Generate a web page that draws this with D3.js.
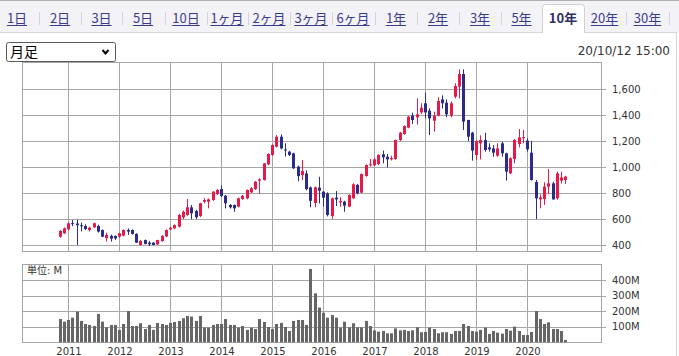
<!DOCTYPE html>
<html><head><meta charset="utf-8">
<script src="https://cdn.jsdelivr.net/npm/d3@7"></script>
<style>
html,body{margin:0;padding:0;background:#fff;overflow:hidden}
svg{display:block}
</style></head>
<body>
<svg id="c" width="679" height="356"></svg>
<script>
// ---------- data ----------
const months = [];
for (let i = 0; i < 120; i++) {
  const y = 2010 + Math.floor((10 + i) / 12), m = (10 + i) % 12 + 1;
  months.push(y + "-" + String(m).padStart(2, "0"));
}
const open  = [464,490,520,568,565,552,546,515,536,546,515,452,470,469,464,472,515,515,485,400,
               438,418,418,405,430,466,520,528,541,613,631,690,662,623,733,733,746,792,830,779,
               708,708,695,754,759,805,830,895,900,1020,1092,1156,1233,1135,1118,1105,1003,938,951,843,
               723,841,810,797,623,764,728,733,695,759,862,803,931,1015,1013,1023,1097,1079,1059,1062,
               1208,1254,1303,1395,1382,1420,1490,1433,1356,1395,1520,1495,1395,1541,1618,1715,1362,1264,1092,1182,
               1208,1151,1143,1087,1182,1105,951,1062,1177,1222,1203,1110,885,751,754,849,874,759,895,900];
const high  = [515,535,575,592,595,572,559,541,572,556,520,495,480,475,495,520,528,520,490,438,
               442,431,422,440,475,520,540,558,640,665,754,708,670,725,760,758,815,830,860,785,
               715,712,765,785,828,845,892,913,1030,1105,1175,1246,1251,1182,1125,1110,1010,1054,975,850,
               850,925,815,805,765,815,767,740,790,875,870,950,1020,1062,1067,1097,1126,1100,1086,1210,
               1270,1320,1392,1418,1528,1490,1572,1452,1426,1536,1551,1520,1505,1644,1751,1751,1362,1270,1205,1244,
               1264,1182,1169,1182,1195,1110,1075,1215,1292,1285,1221,1200,900,790,882,985,887,964,964,932];
const low   = [455,485,512,545,400,505,515,503,530,495,460,426,426,440,455,468,477,480,415,395,
               405,392,398,400,425,460,515,520,535,600,625,600,600,615,720,682,740,785,770,682,
               680,656,690,748,752,800,825,792,895,1015,1085,1150,1135,1080,1085,985,890,900,820,690,
               690,720,695,620,600,700,695,656,690,755,790,798,925,1003,1005,1015,1028,997,1050,1055,
               1200,1248,1298,1331,1326,1408,1374,1246,1272,1390,1449,1382,1382,1528,1528,1285,1200,1049,1054,1059,
               1118,1118,1079,1079,1079,895,945,1028,1151,1182,1118,895,600,682,708,790,749,749,874,870];
const close = [508,528,567,563,552,546,523,533,567,503,464,477,449,451,490,515,503,485,418,431,
               408,405,400,438,470,515,533,553,631,656,690,644,613,721,746,751,810,823,777,721,
               690,682,759,779,823,836,887,905,1028,1100,1169,1233,1143,1130,1092,990,930,969,830,740,
               844,818,764,631,759,751,738,703,785,867,797,946,1015,1020,1059,1092,1074,1059,1069,1208,
               1264,1315,1387,1362,1405,1456,1420,1374,1395,1508,1490,1405,1490,1623,1715,1349,1233,1126,1200,1208,
               1130,1136,1110,1143,1105,964,1067,1208,1228,1230,1136,900,759,766,849,874,751,951,920,926];
const volume = [150,133,144,159,198,138,118,112,105,183,133,97,112,112,80,118,202,105,105,123,
                86,112,80,125,118,112,125,131,138,155,170,166,138,170,95,95,112,118,118,150,
                112,112,95,105,80,95,86,150,131,99,86,118,125,99,73,138,144,144,112,473,
                316,224,191,159,176,159,95,133,97,123,97,97,138,105,77,69,73,58,58,90,
                77,80,73,77,97,65,67,95,86,58,65,65,54,73,73,118,105,73,69,80,
                95,54,73,62,56,86,75,101,73,47,47,67,202,150,118,129,86,86,73,15];
const priceTicks = [400,600,800,1000,1200,1400,1600];
const volTicks = [100,200,300,400];
const yearLabels = ["2011","2012","2013","2014","2015","2016","2017","2018","2019","2020"];
const tabs = ["1日","2日","3日","5日","10日","1ヶ月","2ヶ月","3ヶ月","6ヶ月","1年","2年","3年","5年","10年","20年","30年"];
const selectedTab = "10年";
const periodLabel = "月足";
const stamp = "20/10/12 15:00";
const unitLabel = "単位: M";

// ---------- layout ----------
const svg = d3.select("#c");
const LAT = "'DejaVu Sans','Noto Sans CJK JP',sans-serif";
const JP = "'Noto Sans CJK JP','DejaVu Sans',sans-serif";
const gridC = "#a6a6a6";
const up = "#e5194a", down = "#2b2b8c";
const L = 22.5, R = 601.5;

// tab bar
svg.append("rect").attr("x",0).attr("y",0).attr("width",679).attr("height",33).attr("fill","#f3f3f7");
svg.append("line").attr("x1",0).attr("x2",679).attr("y1",0.5).attr("y2",0.5).attr("stroke","#b0b0b0");
svg.append("path").attr("d","M-1,32.5 H676.5 V356").attr("fill","#fff").attr("stroke","#d6d6d6");
svg.append("rect").attr("x",-1).attr("y",33).attr("width",677).attr("height",330).attr("fill","#fff");
svg.append("line").attr("x1",676.5).attr("x2",676.5).attr("y1",32.5).attr("y2",356).attr("stroke","#d6d6d6");

const tabCenters = [17,60,101.5,143,186,227,269,311,353,396,438,480,521.5,563,604.5,647.5];
const tabX = d3.scalePoint().domain(tabs).range([tabCenters[0], tabCenters[tabCenters.length-1]]);
const tabPos = t => tabCenters[tabs.indexOf(t)];
// selected tab box
const sx = tabPos(selectedTab);
svg.append("path")
  .attr("d",`M${sx-20.5},33 V7.5 Q${sx-20.5},4.5 ${sx-17.5},4.5 H${sx+18.5} Q${sx+21.5},4.5 ${sx+21.5},7.5 V33`)
  .attr("fill","#fff").attr("stroke","#d0d0d0");
tabs.forEach((t,i) => {
  const x = tabPos(t);
  const sel = t === selectedTab;
  const tx = svg.append("text").attr("x",x).attr("y",23).attr("text-anchor","middle")
    .attr("font-family",JP).attr("font-size",13).attr("font-weight",sel?"bold":"normal")
    .attr("fill",sel?"#2f2f66":"#3b3b8c").text(t);
  if (!sel) {
    const w = tx.node().getComputedTextLength();
    svg.append("line").attr("x1",x-w/2).attr("x2",x+w/2).attr("y1",25.5).attr("y2",25.5)
      .attr("stroke","#3b3b8c").attr("stroke-width",1);
  }
  if (i < tabs.length-1) {
    const nx = tabPos(tabs[i+1]);
    if (!sel && tabs[i+1] !== selectedTab) {
      const mx = Math.round((x+nx)/2)+0.5;
      svg.append("line").attr("x1",mx).attr("x2",mx).attr("y1",12).attr("y2",25).attr("stroke","#d4d4d4");
    }
  }
});
svg.append("line").attr("x1",669.5).attr("x2",669.5).attr("y1",12).attr("y2",25).attr("stroke","#d4d4d4");

// select box
svg.append("rect").attr("x",6.5).attr("y",42.5).attr("width",109).attr("height",19).attr("rx",2)
  .attr("fill","#fff").attr("stroke","#5a5a5a");
svg.append("text").attr("x",10).attr("y",57).attr("font-family",JP).attr("font-size",14).attr("fill","#000").text(periodLabel);
svg.append("path").attr("d","M102.5,50 L105.5,53.5 L108.5,50").attr("fill","none").attr("stroke","#000").attr("stroke-width",2);

// timestamp
svg.append("text").attr("x",670).attr("y",55).attr("text-anchor","end").attr("font-family",LAT)
  .attr("font-size",12).attr("fill","#333").text(stamp);

// scales
const x = d3.scalePoint().domain(months).range([59.5, 565.25]);
const y = d3.scaleLinear().domain([400,1600]).range([245,89]);
const yv = d3.scaleLinear().domain([0,400]).range([342.3,280.3]);

function panel(top, bottom, scale, ticks, fmt) {
  const g = svg.append("g");
  g.selectAll("line.h").data(ticks).join("line")
    .attr("x1",L).attr("x2",606).attr("y1",d=>Math.round(scale(d))+0.5).attr("y2",d=>Math.round(scale(d))+0.5)
    .attr("stroke",gridC);
  g.selectAll("line.v").data(yearLabels).join("line")
    .attr("x1",d=>Math.round(x(d+"-01"))+0.5).attr("x2",d=>Math.round(x(d+"-01"))+0.5)
    .attr("y1",top).attr("y2",bottom).attr("stroke",gridC);
  g.append("rect").attr("x",L).attr("y",top).attr("width",R-L).attr("height",bottom-top)
    .attr("fill","none").attr("stroke",gridC);
  g.selectAll("text").data(ticks).join("text")
    .attr("x",612).attr("y",d=>scale(d)+3.5).attr("font-family",LAT).attr("font-size",10).attr("fill","#333")
    .text(fmt);
}
panel(62.5, 251.5, y, priceTicks, d3.format(","));
panel(264.5, 342.5, yv, volTicks, d => d + "M");

// candles
const cg = svg.append("g");
months.forEach((m,i) => {
  const cx = Math.round(x(m));
  const c = close[i] >= open[i] ? up : down;
  cg.append("line").attr("x1",cx+0.5).attr("x2",cx+0.5).attr("y1",y(high[i])).attr("y2",y(low[i]))
    .attr("stroke",c).attr("stroke-width",1);
  const t = y(Math.max(open[i],close[i])), b = y(Math.min(open[i],close[i]));
  cg.append("rect").attr("x",cx-1).attr("width",3).attr("y",t).attr("height",Math.max(1,b-t)).attr("fill",c);
});

// volume bars
svg.append("g").selectAll("rect").data(volume).join("rect")
  .attr("x",(d,i)=>Math.round(x(months[i]))-1).attr("width",3)
  .attr("y",d=>yv(d)).attr("height",d=>yv(0)-yv(d)).attr("fill","#666");

svg.append("text").attr("x",27).attr("y",274).attr("font-family",LAT).attr("font-size",10).attr("fill","#333").text(unitLabel);

// year labels
svg.append("g").selectAll("text").data(yearLabels).join("text")
  .attr("x",d=>x(d+"-01")+1).attr("y",355).attr("text-anchor","middle")
  .attr("font-family",LAT).attr("font-size",10).attr("fill","#333").text(d=>d);
</script>
</body></html>
